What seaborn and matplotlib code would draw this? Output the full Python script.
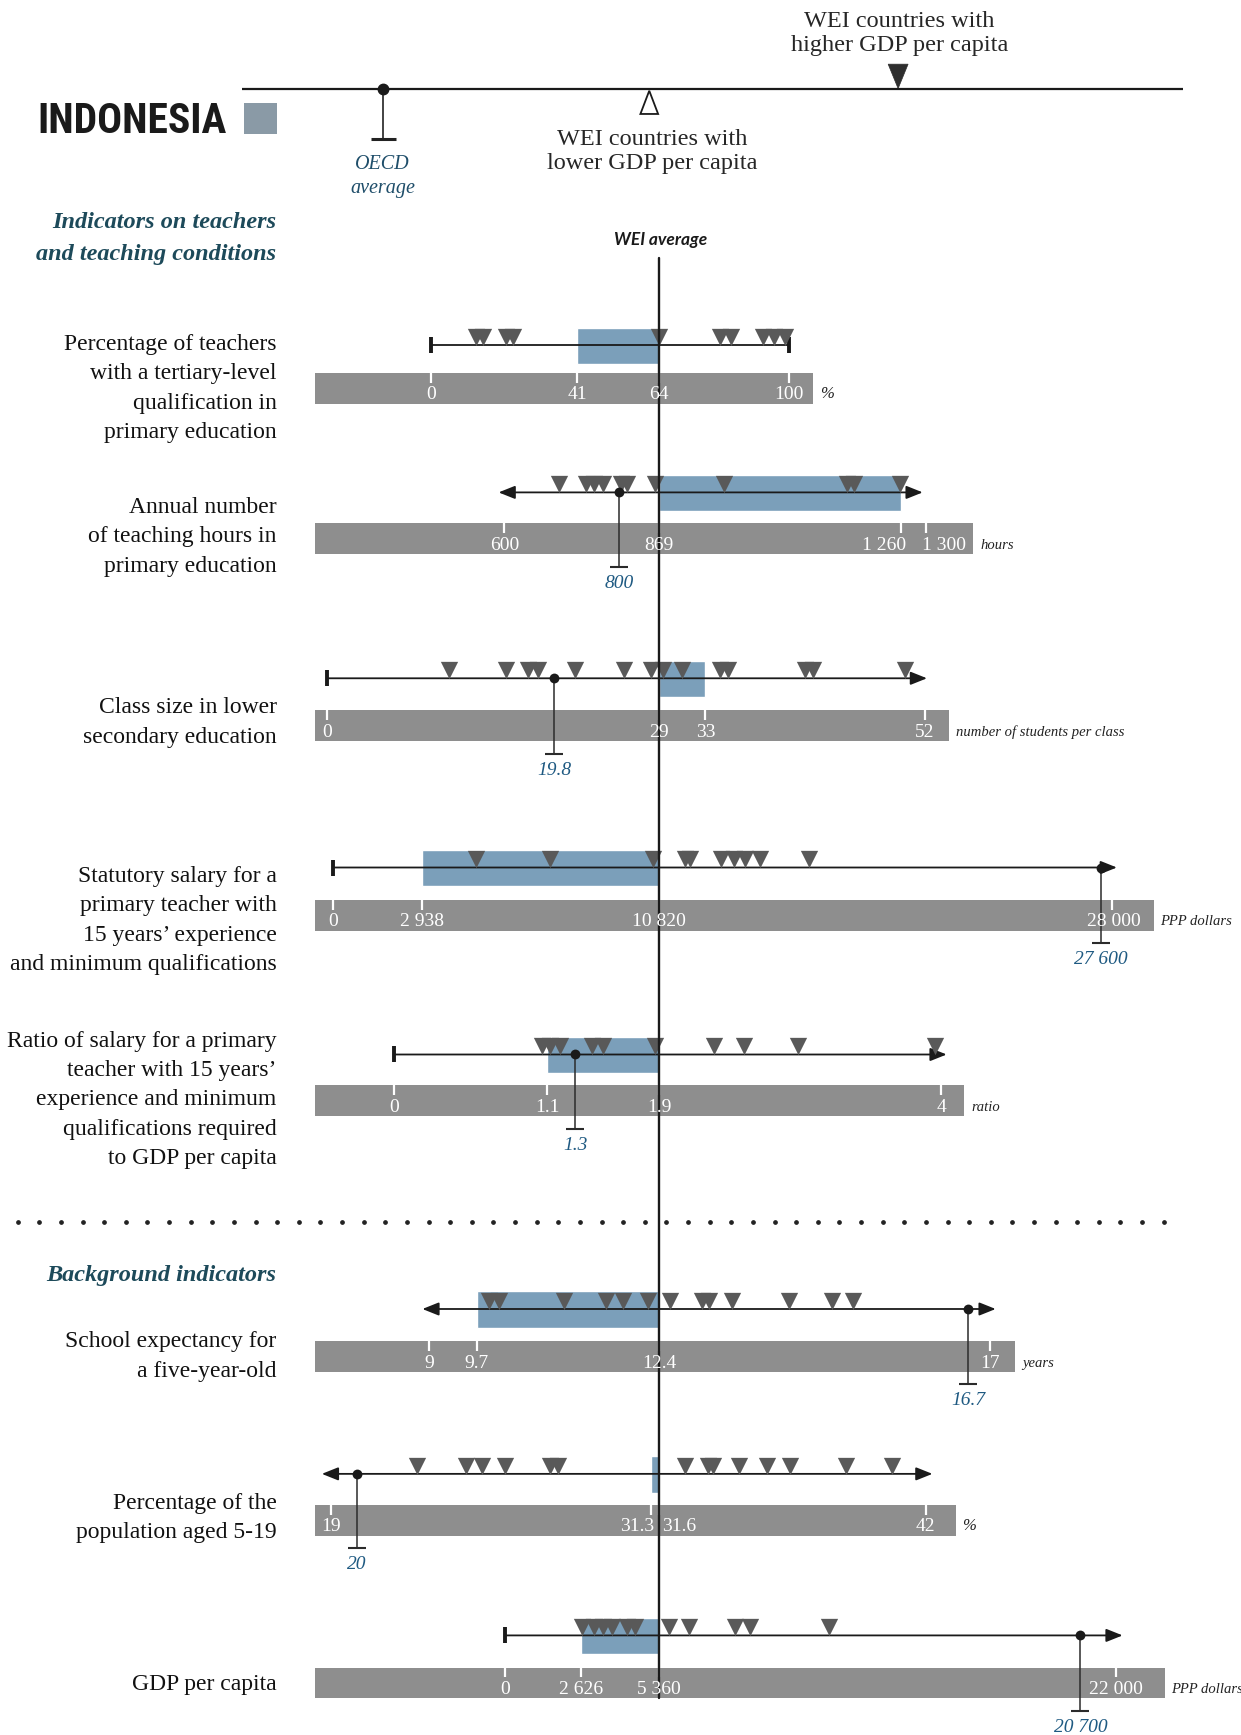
import numpy as np
import pandas as pd
import matplotlib
matplotlib.use("Agg")
import matplotlib.pyplot as plt
from matplotlib import font_manager as fm
from matplotlib.patches import Rectangle, Polygon
import seaborn as sns

# ---------------- data ----------------
indicator_labels = [
    "Percentage of teachers\nwith a tertiary-level\nqualification in\nprimary education",
    "Annual number\nof teaching hours in\nprimary education",
    "Class size in lower\nsecondary education",
    "Statutory salary for a\nprimary teacher with\n15 years’ experience\nand minimum qualifications",
    "Ratio of salary for a primary\nteacher with 15 years’\nexperience and minimum\nqualifications required\nto GDP per capita",
    "School expectancy for\na five-year-old",
    "Percentage of the\npopulation aged 5-19",
    "GDP per capita",
]
units = ["%", "hours", "number of students per class", "PPP dollars",
         "ratio", "years", "%", "PPP dollars"]
indonesia = [41, 1260, 33, 2938, 1.1, 9.7, 31.3, 2626]
wei_average = [64, 869, 29, 10820, 1.9, 12.4, 31.6, 5360]
oecd_average = [np.nan, 800, 19.8, 27600, 1.3, 16.7, 20, 20700]
oecd_labels = ["", "800", "19.8", "27 600", "1.3", "16.7", "20", "20 700"]
tick_values = [
    [0, 41, 64, 100],
    [600, 869, 1260, 1300],
    [0, 29, 33, 52],
    [0, 2938, 10820, 28000],
    [0, 1.1, 1.9, 4],
    [9, 9.7, 12.4, 17],
    [19, 31.3, 31.6, 42],
    [0, 2626, 5360, 22000],
]
tick_labels = [
    ["0", "41", "64", "100"],
    ["600", "869", "1 260", "1 300"],
    ["0", "29", "33", "52"],
    ["0", "2 938", "10 820", "28 000"],
    ["0", "1.1", "1.9", "4"],
    ["9", "9.7", "12.4", "17"],
    ["19", "31.3", "31.6", "42"],
    ["0", "2 626", "5 360", "22 000"],
]
countries_teachers_tertiary = [12.5, 14.6, 21, 23, 63.9, 81, 84, 93, 96, 99]
countries_teaching_hours = [695, 741, 756, 772, 803, 813, 861, 973, 1172, 1184, 1258]
countries_class_size = [10.6, 15.6, 17.5, 18.4, 21.6, 25.9, 28.3, 29.3, 31.0,
                        34.3, 35.0, 41.6, 42.3, 50.3]
countries_salary = [4750, 7190, 10630, 11800, 11980, 13150, 13650, 14090, 14640, 16510]
countries_salary_ratio = [1.06, 1.12, 1.19, 1.42, 1.50, 1.87, 2.31, 2.53, 2.93, 3.95]
countries_school_expectancy = [9.89, 10.03, 11.0, 11.62, 11.87, 12.24, 12.55, 12.99,
                               13.09, 13.41, 14.2, 14.8, 15.1]
countries_population_5_19 = [22.3, 24.2, 24.8, 25.7, 27.4, 27.7, 32.6, 33.5, 33.7,
                             34.7, 35.8, 36.7, 38.9, 40.7]
countries_gdp = [2680, 3100, 3410, 3730, 4250, 4500, 5730, 6450, 8130, 8680, 11560]
countries = [countries_teachers_tertiary, countries_teaching_hours, countries_class_size,
             countries_salary, countries_salary_ratio, countries_school_expectancy,
             countries_population_5_19, countries_gdp]
range_start = [0, 590, 0, 0, 0, 8.9, 18.66, 0]
range_end = [100, 1295, 52.2, 28200, 4.04, 17.08, 42.26, 22240]
start_style = ["cap", "arrow", "cap", "cap", "cap", "arrow", "arrow", "cap"]
end_style = ["cap", "arrow", "arrow", "arrow", "arrow", "arrow", "arrow", "arrow"]

# ---------------- layout (units of a 1122 x 1568 canvas) ----------------
SW, SH = 1122, 1568
W, H = 1241, 1735
AVG_X = 596
tick_px_lo = [390, 456, 296, 301, 356, 388, 299, 457]
tick_px_hi = [713, 837, 836, 1005, 851, 895, 837, 1009]
line_y = [312, 445, 613, 784, 953, 1183, 1332, 1478]
bar_top = [337, 473, 642, 813, 981, 1212, 1360, 1507]
bar_right = [735, 880, 858, 1043, 872, 918, 864, 1053]
label_cy = [350, 484, 652, 831, 993, 1225, 1371, 1521]
c, r, l = "center", "right", "left"
tick_align = [[c, c, c, c], [c, c, r, l], [c, c, c, c], [c, c, c, c],
              [c, c, c, c], [c, c, c, c], [c, r, l, c], [c, c, c, c]]
tick_dx = [[0, 0, 0, 0], [0, 0, 4, -3], [0, 0, 0, 0], [0, 0, 0, 2],
           [0, 0, 0, 0], [0, 0, 0, 0], [0, 2, 2, 0], [0, 0, 0, 0]]

GRAY = "#8e8e8e"
BLUE = "#7b9fba"
TRI = "#595959"
OECD_BLUE = "#1f5a82"
TEAL = "#1d4a5a"

sns.set_theme(style="white")
plt.rcParams["font.family"] = ["Liberation Serif", "DejaVu Serif"]

# pick a condensed bold sans for the country name if one is installed
title_family = "DejaVu Sans"
for fam in ["Liberation Sans Narrow", "Roboto Condensed", "Open Sans Condensed",
            "Noto Sans", "DejaVu Sans", "Roboto", "Open Sans"]:
    try:
        p = fm.findfont(fm.FontProperties(family=fam, weight="bold", stretch="condensed"),
                        fallback_to_default=False)
    except Exception:
        continue
    if "narrow" in p.lower() or "condensed" in p.lower():
        title_family = fam
        break

fig = plt.figure(figsize=(W / 100, H / 100), dpi=100)

ax0 = fig.add_axes([0, 0, 1, 1], zorder=0)
ax0.set_xlim(0, SW)
ax0.set_ylim(SH, 0)
ax0.set_axis_off()


def piecewise(vmin, vavg, vmax, pmin, pavg, pmax):
    sl = (pavg - pmin) / (vavg - vmin)
    sr = (pmax - pavg) / (vmax - vavg)

    def fwd(v):
        v = np.asarray(v, dtype=float)
        return np.where(v <= vavg, pavg + (v - vavg) * sl, pavg + (v - vavg) * sr)

    def inv(p):
        p = np.asarray(p, dtype=float)
        return np.where(p <= pavg, vavg + (p - pavg) / sl, vavg + (p - pavg) / sr)

    return fwd, inv


def row_axes(i, z):
    ax = fig.add_axes([0, 0, 1, 1], zorder=z)
    ax.patch.set_alpha(0)
    tv = tick_values[i]
    fwd, inv = piecewise(tv[0], wei_average[i], tv[-1], tick_px_lo[i], AVG_X, tick_px_hi[i])
    ax.set_xscale("function", functions=(fwd, inv))
    return ax, inv


def finish(ax, inv):
    ax.set_xlim(float(inv(0)), float(inv(SW)))
    ax.set_ylim(SH, 0)
    ax.set_axis_off()


# ---------------- header ----------------
ax0.plot([219, 1070], [80, 80], color="k", lw=1.6, solid_capstyle="butt")
ax0.plot([346, 346], [80, 126], color="#222", lw=1.2)
ax0.plot([346], [126], marker="_", ms=18, mew=2.2, color="#222")
ax0.plot([346], [80], marker="o", ms=7.5, color="k")
ax0.text(346, 153, "OECD", ha="center", va="baseline", style="italic",
         fontsize=14.5, color="#1f4e6a")
ax0.text(346, 174, "average", ha="center", va="baseline", style="italic",
         fontsize=14.5, color="#1f4e6a")
ax0.add_patch(Polygon([(579, 103), (595, 103), (587, 82)], closed=True,
                      fc="white", ec="k", lw=1.3))
ax0.text(590, 131, "WEI countries with", ha="center", va="baseline", fontsize=17.5)
ax0.text(590, 153, "lower GDP per capita", ha="center", va="baseline", fontsize=17.5)
ax0.add_patch(Polygon([(803, 58), (821, 58), (812, 80)], closed=True,
                      fc="#2e2e2e", ec="#2e2e2e", lw=0.5))
ax0.text(813, 24, "WEI countries with", ha="center", va="baseline", fontsize=17.5)
ax0.text(813, 46, "higher GDP per capita", ha="center", va="baseline", fontsize=17.5)

title = ax0.text(34, 120, "INDONESIA", ha="left", va="baseline", fontsize=30,
                 fontweight="bold", fontstretch="condensed",
                 family=[title_family, "DejaVu Sans"], color="k")
ax0.add_patch(Rectangle((221, 93), 29, 28, fc="#8a9aa6", ec="none"))

ax0.text(250, 206, "Indicators on teachers", ha="right", va="baseline",
         style="italic", fontweight="bold", fontsize=17.5, color=TEAL)
ax0.text(250, 235, "and teaching conditions", ha="right", va="baseline",
         style="italic", fontweight="bold", fontsize=17.5, color=TEAL)
ax0.text(597, 221, "WEI average", ha="center", va="baseline", style="italic",
         fontweight="bold", fontsize=12.5, family=["Lato", "DejaVu Sans"], color="k")

# separator
dots_x = np.arange(16, 1070, 19.55)
ax0.plot(dots_x, np.full(len(dots_x), 1104), ls="none", marker="o", ms=2.4, color="#222")
ax0.text(250, 1158, "Background indicators", ha="right", va="baseline",
         style="italic", fontweight="bold", fontsize=17.5, color=TEAL)

# ---------------- rows ----------------
for i in range(8):
    bt = bar_top[i]
    ly = line_y[i]
    # grey scale band, row label and unit
    ax0.add_patch(Rectangle((285, bt), bar_right[i] - 285, 28, fc=GRAY, ec="none"))
    lines = indicator_labels[i].split("\n")
    n = len(lines)
    for k, txt in enumerate(lines):
        ax0.text(250, label_cy[i] + (k - (n - 1) / 2) * 26.5 + 6, txt, ha="right",
                 va="baseline", fontsize=17, color="#111")
    ax0.text(bar_right[i] + 6, bt + 23, units[i], ha="left", va="baseline",
             style="italic", fontsize=12 if units[i] == "%" else 10.5, color="#222")

    ax, inv = row_axes(i, 2)

    # country box
    ax.barh(ly + 0.5, wei_average[i] - indonesia[i], left=indonesia[i], height=33,
            color=BLUE, zorder=1)

    # range line
    s, e = range_start[i], range_end[i]
    if start_style[i] == "cap" and end_style[i] == "cap":
        ax.plot([s, e], [ly, ly], color="k", lw=1.3, zorder=2)
    else:
        style = "-|>" if start_style[i] == "cap" else "<|-|>"
        ax.annotate("", xy=(e, ly), xytext=(s, ly),
                    arrowprops=dict(arrowstyle=style + ",head_length=0.5,head_width=0.2",
                                    color="k", lw=1.3, shrinkA=0, shrinkB=0,
                                    mutation_scale=20), zorder=2)
    if start_style[i] == "cap":
        ax.plot([s], [ly], marker="|", ms=11, mew=2.8, color="k", zorder=2)
    if end_style[i] == "cap":
        ax.plot([e], [ly], marker="|", ms=11, mew=2.8, color="k", zorder=2)

    # WEI countries
    vals = countries[i]
    sns.scatterplot(x=vals, y=np.full(len(vals), ly - 7.5), marker="v", s=155,
                    color=TRI, linewidth=0, ax=ax, legend=False, zorder=3)

    # OECD average
    o = oecd_average[i]
    if not np.isnan(o):
        drop_b = bt + 28 + 11
        ax.plot([o, o], [ly, drop_b], color="#2b2b2b", lw=1.1, zorder=4)
        ax.plot([o], [drop_b], marker="_", ms=13, mew=1.5, color="#2b2b2b", zorder=4)
        sns.scatterplot(x=[o], y=[ly], s=50, color="k", linewidth=0, ax=ax,
                        legend=False, zorder=5)
        ax.text(o, drop_b + 19, oecd_labels[i], ha="center", va="baseline",
                style="italic", fontsize=14, color=OECD_BLUE)

    # tick marks on band
    for v in tick_values[i]:
        ax.plot([v, v], [bt, bt + 9], color="white", lw=1.6, solid_capstyle="butt",
                zorder=4)
    finish(ax, inv)

    # tick labels above the WEI line
    axl, inv2 = row_axes(i, 7)
    for v, lab, al, dx in zip(tick_values[i], tick_labels[i], tick_align[i], tick_dx[i]):
        axl.annotate(lab, xy=(v, bt + 24), xytext=(dx, 0), textcoords="offset points",
                     ha=al, va="baseline", color="white", fontsize=14)
    finish(axl, inv2)

# WEI average vertical line
axt = fig.add_axes([0, 0, 1, 1], zorder=5)
axt.patch.set_alpha(0)
axt.set_xlim(0, SW)
axt.set_ylim(SH, 0)
axt.set_axis_off()
axt.plot([AVG_X, AVG_X], [233, 1535], color="k", lw=1.7)

# fit title width
fig.canvas.draw()
bb = title.get_window_extent()
target = (205 - 34) * W / SW
if bb.width > 0:
    title.set_fontsize(30 * target / bb.width)

fig.savefig("out.png", dpi=100)
